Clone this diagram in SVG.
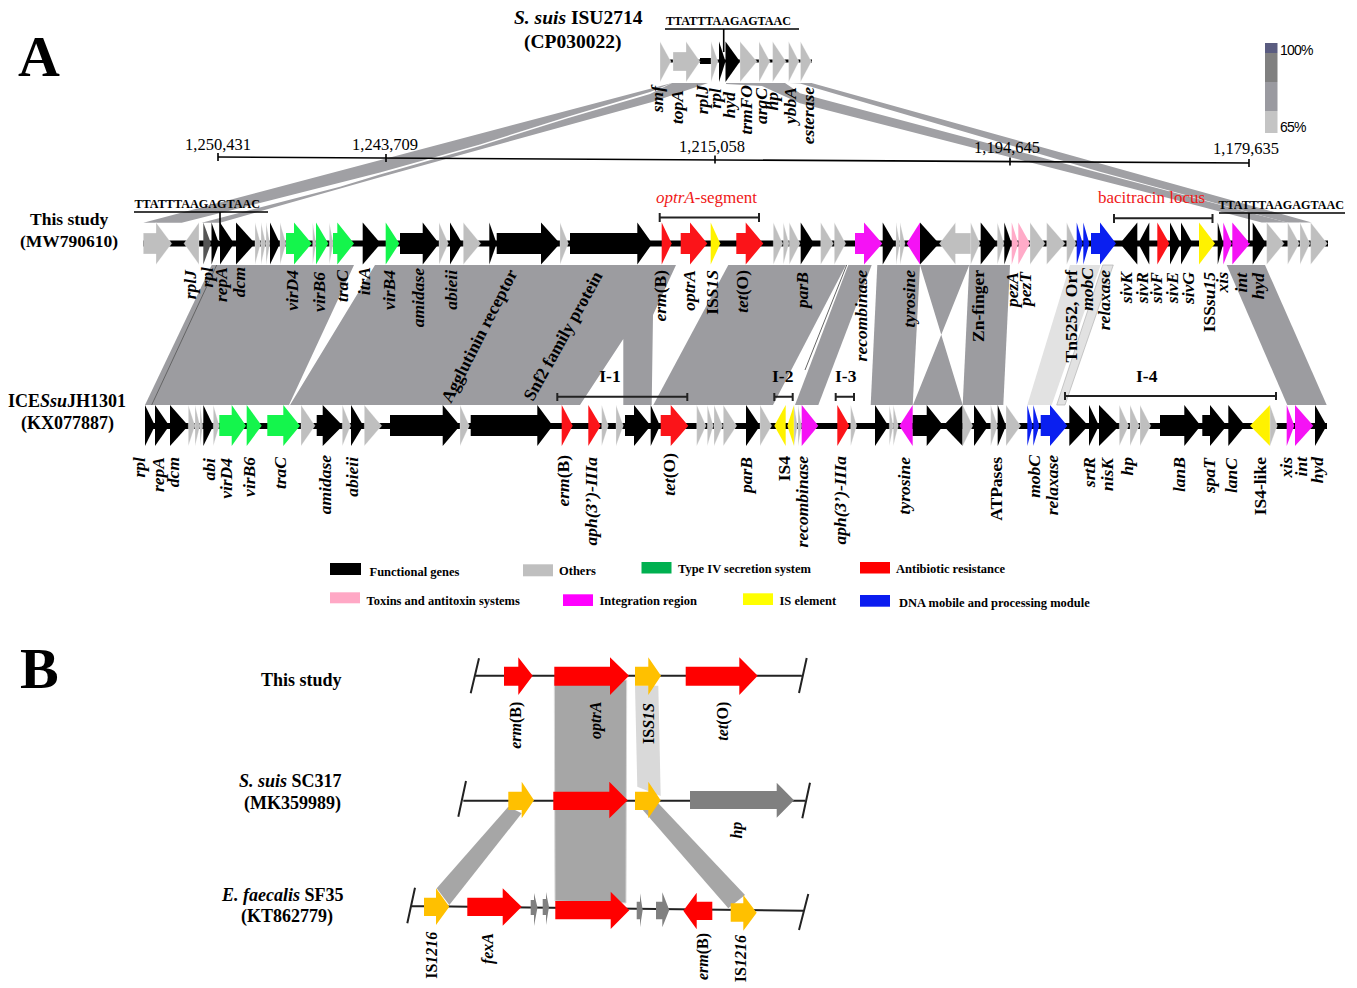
<svg xmlns="http://www.w3.org/2000/svg" width="1357" height="988" viewBox="0 0 1357 988">
<style>
text{font-family:"Liberation Serif","Times New Roman",serif;fill:#000}
.b{font-weight:700;font-size:18px}
.b2{font-weight:700;font-size:17.5px}
.t{font-weight:700;font-size:19.5px}
.i{font-style:italic}
.n{font-style:normal}
.l{font-weight:700;font-style:italic;font-size:17.5px;text-anchor:end}
.lb{font-weight:700;font-size:17.5px;text-anchor:end}
.lp{font-weight:700;font-style:italic;font-size:16px;text-anchor:end}
.sc{font-size:16.5px;text-anchor:middle}
.seq{font-weight:700;font-size:13.5px}
.red{fill:#f01818;font-size:17px}
.leg{font-weight:700;font-size:12.5px}
.big{font-weight:700;font-size:58px}
.ctr{font-weight:700;font-size:17.5px;text-anchor:middle}
.pct{font-family:"Liberation Sans",Arial,sans-serif;font-size:14px;letter-spacing:-.8px}
.k{fill:#000}.g{fill:#bfbfbf;stroke:#fff;stroke-width:.3}.dg{fill:#555}.v{fill:#14f54c}.r{fill:#fb1419}.r2{fill:#f00}.m{fill:#f512f5}.y{fill:#fff200}.u{fill:#0a1ff0}.p{fill:#ffabc8}
.s{fill:#808080}.o{fill:#ffc000}
.rb{fill:#9c9ca0}.rbd{fill:#a0a0a4}.rl{fill:#e2e2e2}.rb2{fill:#a6a6a6}
.ln{stroke:#000;fill:none;stroke-width:1.6}
.ln2{stroke:#222;fill:none;stroke-width:2}
</style>

<g id="ribbons">
<polygon class="rbd" points="143.300,222.700 672,83 650,92 566.700,117 480,144.500 380,172.500 181.700,222.700"/>
<polygon class="rbd" points="201.700,222.700 340,186.700 380,174.500 480,146 566.700,118.500 650,94 672,83 708,83 653,101.700 380,177.300 220,222.700"/>
<polygon class="rbd" points="789,83 811.500,83 1311.700,222.500 1287,222.500 1100,171.700 800,83.500"/>
<polygon class="rbd" points="726,83 785,83 800,93.300 1100,173 1287,222.500 1261.700,222.500 1130,188 800,103.300 762,86 726,84"/>
<polygon class="rb" points="211.700,265 354,265 289,405 145,405"/>
<line x1="216.700" y1="265" x2="151.700" y2="405" stroke="#555" stroke-width=".8"/>
<polygon class="rb" points="375,265 676,265 653,315 651.700,405 623.300,405 623.300,339 580,405 290,405"/>
<polygon class="rb" points="728.300,265 846,265 773,405 653.300,405"/>
<polygon class="rb" points="848.300,265 871.700,265 818.300,405 795,405"/>
<line x1="846.700" y1="265" x2="805" y2="370" stroke="#666" stroke-width="1"/>
<polygon class="rb" points="877.300,265 920,265 912.700,405 870.700,405"/>
<polygon class="rb" points="920,265 969.300,265 913,405 962.700,405"/>
<polygon class="rb" points="969.300,265 1010,265 1003.300,405 962.700,405"/>
<polygon class="rl" points="1070,265 1100.700,265 1051.700,405 1027.300,405"/>
<polygon class="rl" stroke="#aaa" stroke-width=".6" points="1102.700,265 1113.300,265 1065,405 1056.700,405"/>
<polygon class="rb" points="1226.700,265 1265,265 1326.700,405 1287.300,405"/>
<polygon class="rb2" stroke="#d9d9d9" points="554.300,680 626.700,680 626,903 555,901"/>
<polygon fill="#d9d9d9" points="635,685.700 658.300,685.700 660.700,796 637.300,786.700"/>
<polygon class="rb2" points="508.300,806.700 521.700,813.300 449.300,905 436.700,888.300"/>
<polygon class="rb2" points="640,806.700 658.300,803.300 745,895 728.300,908.300"/>
</g>

<g id="scale-bar">
<line class="ln" x1="218" y1="157" x2="1249" y2="163"/>
<path class="ln" d="M218 153v8M386 154v8M715 155.500v8M1010 157.500v8M1249 159v8"/>
<text class="sc" x="218" y="150">1,250,431</text>
<text class="sc" x="385" y="150">1,243,709</text>
<text class="sc" x="712" y="152">1,215,058</text>
<text class="sc" x="1007" y="153">1,194,645</text>
<text class="sc" x="1246" y="154">1,179,635</text>
</g>

<g id="track-isu2714">
<rect x="660" y="59.500" width="152" height="3" class="k"/>
<rect x="700" y="58" width="11" height="6" class="k"/>
<polygon class="g" points="660,41.500 671,61.500 660,82"/>
<polygon class="g" points="673,52 686,52 686,41.500 700,61.500 686,82 686,71 673,71"/>
<polygon class="g" points="711,41.500 718,61.500 711,82"/>
<polygon class="k" points="719,41.500 725.500,61.500 719,82"/>
<polygon class="k" points="725.500,41.500 740,61.500 725.500,82"/>
<polygon class="g" points="740,41.500 757,61.500 740,82"/>
<polygon class="g" points="759,41.500 770,61.500 759,82"/>
<polygon class="g" points="772.600,41.500 786,61.500 772.600,82"/>
<polygon class="g" points="788.600,41.500 799,61.500 788.600,82"/>
<polygon class="g" points="800.500,41.500 811.500,61.500 800.500,82"/>
<text class="seq" x="666" y="25" textLength="125" lengthAdjust="spacingAndGlyphs">TTATTTAAGAGTAAC</text>
<path class="ln" d="M665 29H799M723.700 29V52"/>
</g>

<g id="track-this-study">
<rect x="143" y="240.500" width="1185" height="6" class="k"/>
<polygon class="g" points="143.300,233 156,233 156,222.500 171.700,243.500 156,264.500 156,254 143.300,254"/>
<polygon class="g" points="184,243.500 199,222.500 199,264.500"/>
<polygon class="dg" points="203.300,222.500 211,243.500 203.300,264.500"/>
<polygon class="k" points="211.500,222.500 219,243.500 211.500,264.500"/>
<polygon class="k" points="220,222.500 234,243.500 220,264.500"/>
<polygon class="k" points="236,222.500 255,243.500 236,264.500"/>
<polygon class="g" points="255,222.500 260.700,243.500 255,264.500"/>
<polygon class="g" points="261,222.500 265.700,243.500 261,264.500"/>
<polygon class="g" points="266,222.500 270,243.500 266,264.500"/>
<polygon class="k" points="270,222.500 280,243.500 270,264.500"/>
<polygon class="g" points="280,222.500 286,243.500 280,264.500"/>
<polygon class="v" points="286,233 294,233 294,222.500 311.700,243.500 294,264.500 294,254 286,254"/>
<polygon class="g" points="312.700,222.500 316,243.500 312.700,264.500"/>
<polygon class="v" points="316,222.500 328.300,243.500 316,264.500"/>
<polygon class="g" points="329.300,222.500 333.300,243.500 329.300,264.500"/>
<polygon class="v" points="333,233 337.300,233 337.300,222.500 354,243.500 337.300,264.500 337.300,254 333,254"/>
<polygon class="k" points="362.700,222.500 380.700,243.500 362.700,264.500"/>
<polygon class="v" points="385.700,222.500 399.300,243.500 385.700,264.500"/>
<polygon class="k" points="400,233 422.700,233 422.700,222.500 439,243.500 422.700,264.500 422.700,254 400,254"/>
<polygon class="g" points="439,222.500 448.300,243.500 439,264.500"/>
<polygon class="k" points="450,222.500 462.300,243.500 450,264.500"/>
<polygon class="g" points="463.300,222.500 480.700,243.500 463.300,264.500"/>
<polygon class="k" points="489.300,222.500 496.700,243.500 489.300,264.500"/>
<polygon class="k" points="496.700,233 541,233 541,222.500 560,243.500 541,264.500 541,254 496.700,254"/>
<polygon class="g" points="560,222.500 568.300,243.500 560,264.500"/>
<polygon class="k" points="570,233 637.300,233 637.300,222.500 652.300,243.500 637.300,264.500 637.300,254 570,254"/>
<polygon class="r" points="661.700,222.500 671.700,243.500 661.700,264.500"/>
<polygon class="r" points="680.700,233 690,233 690,222.500 707.300,243.500 690,264.500 690,254 680.700,254"/>
<polygon class="y" points="710.700,222.500 720.300,243.500 710.700,264.500"/>
<polygon class="r" points="736.300,233 745.700,233 745.700,222.500 763.300,243.500 745.700,264.500 745.700,254 736.300,254"/>
<polygon class="g" points="773.300,222.500 782.700,243.500 773.300,264.500"/>
<polygon class="g" points="783.300,222.500 789,243.500 783.300,264.500"/>
<polygon class="g" points="789.300,222.500 800,243.500 789.300,264.500"/>
<polygon class="k" points="800.700,222.500 814,243.500 800.700,264.500"/>
<polygon class="g" points="820.700,222.500 833.300,243.500 820.700,264.500"/>
<polygon class="g" points="834.300,222.500 845.700,243.500 834.300,264.500"/>
<polygon class="m" points="855,233 864,233 864,222.500 882.300,243.500 864,264.500 864,254 855,254"/>
<polygon class="k" points="882.700,222.500 895,243.500 882.700,264.500"/>
<polygon class="g" points="896,222.500 900,243.500 896,264.500"/>
<polygon class="g" points="900,222.500 905,243.500 900,264.500"/>
<polygon class="m" points="906.700,243.500 920,222.500 920,264.500"/>
<polygon class="k" points="920,222.500 939,243.500 920,264.500"/>
<polygon class="g" points="939.500,243.500 955.500,222.500 955.500,233 971.500,233 971.500,254 955.500,254 955.500,264.500"/>
<polygon class="g" points="970.700,222.500 980,243.500 970.700,264.500"/>
<polygon class="k" points="980.700,222.500 997.300,243.500 980.700,264.500"/>
<polygon class="g" points="997.300,222.500 1004,243.500 997.300,264.500"/>
<polygon class="k" points="1004.300,222.500 1011.700,243.500 1004.300,264.500"/>
<polygon class="p" points="1011.700,222.500 1018.300,243.500 1011.700,264.500"/>
<polygon class="p" points="1018.300,222.500 1030,243.500 1018.300,264.500"/>
<polygon class="g" points="1030,222.500 1045,243.500 1030,264.500"/>
<polygon class="g" points="1046.700,222.500 1065,243.500 1046.700,264.500"/>
<polygon class="g" points="1066.700,222.500 1076,243.500 1066.700,264.500"/>
<polygon class="u" points="1076.700,222.500 1082.700,243.500 1076.700,264.500"/>
<polygon class="u" points="1083.300,222.500 1089.300,243.500 1083.300,264.500"/>
<polygon class="u" points="1091,233 1100,233 1100,222.500 1116,243.500 1100,264.500 1100,254 1091,254"/>
<polygon class="k" points="1120,243.500 1137.300,222.500 1137.300,264.500"/>
<polygon class="k" points="1138.300,243.500 1149.300,222.500 1149.300,264.500"/>
<polygon class="r" points="1157.300,222.500 1169.300,243.500 1157.300,264.500"/>
<polygon class="k" points="1170,222.500 1180.700,243.500 1170,264.500"/>
<polygon class="k" points="1181,222.500 1192.700,243.500 1181,264.500"/>
<polygon class="y" points="1199,222.500 1215,243.500 1199,264.500"/>
<polygon class="k" points="1217.700,222.500 1223.300,243.500 1217.700,264.500"/>
<polygon class="m" points="1223.300,222.500 1231.700,243.500 1223.300,264.500"/>
<polygon class="m" points="1232.300,222.500 1250,243.500 1232.300,264.500"/>
<polygon class="k" points="1252.700,222.500 1266,243.500 1252.700,264.500"/>
<polygon class="g" points="1266.700,222.500 1284,243.500 1266.700,264.500"/>
<polygon class="g" points="1287.700,222.500 1299.300,243.500 1287.700,264.500"/>
<polygon class="g" points="1300,222.500 1310,243.500 1300,264.500"/>
<polygon class="g" points="1310.700,222.500 1327.300,243.500 1310.700,264.500"/>
<text class="seq" x="134.500" y="208" textLength="125.500" lengthAdjust="spacingAndGlyphs">TTATTTAAGAGTAAC</text>
<path class="ln" d="M134 212H268M220 212V240"/>
<text class="seq" x="1218.500" y="209" textLength="125.500" lengthAdjust="spacingAndGlyphs">TTATTTAAGAGTAAC</text>
<path class="ln" d="M1219 213H1345M1249 213V243"/>
<text class="red" x="656" y="203"><tspan class="i">optrA</tspan>-segment</text>
<path class="ln2" d="M659.700 213v9M659.700 217.500H759M759 213v9"/>
<text class="red" x="1098" y="203">bacitracin locus</text>
<path class="ln2" d="M1114 214v9M1114 218.300H1212.500M1212.500 214v9"/>
</g>

<g id="track-ice">
<rect x="145" y="423" width="1182" height="6" class="k"/>
<polygon class="k" points="145,405 155,425.700 145,446"/>
<polygon class="k" points="155,405 169.300,425.700 155,446"/>
<polygon class="k" points="170,405 188.300,425.700 170,446"/>
<polygon class="g" points="188.300,405 195,425.700 188.300,446"/>
<polygon class="g" points="195,405 200,425.700 195,446"/>
<polygon class="g" points="200,405 202.700,425.700 200,446"/>
<polygon class="k" points="203.300,405 213.300,425.700 203.300,446"/>
<polygon class="g" points="213.300,405 219.300,425.700 213.300,446"/>
<polygon class="v" points="219.300,415 231.700,415 231.700,405 246,425.700 231.700,446 231.700,436 219.300,436"/>
<polygon class="v" points="246.700,405 261.700,425.700 246.700,446"/>
<polygon class="v" points="267.300,415 283.300,415 283.300,405 300,425.700 283.300,446 283.300,436 267.300,436"/>
<polygon class="g" points="301,405 315,425.700 301,446"/>
<polygon class="k" points="316.700,415 322.700,415 322.700,405 342.700,425.700 322.700,446 322.700,436 316.700,436"/>
<polygon class="g" points="342.300,405 350.700,425.700 342.300,446"/>
<polygon class="k" points="351,405 363.300,425.700 351,446"/>
<polygon class="g" points="364.300,405 381.700,425.700 364.300,446"/>
<polygon class="k" points="390,415 442.700,415 442.700,405 460,425.700 442.700,446 442.700,436 390,436"/>
<polygon class="g" points="460,405 469.300,425.700 460,446"/>
<polygon class="k" points="470.700,415 537.300,415 537.300,405 552.700,425.700 537.300,446 537.300,436 470.700,436"/>
<polygon class="r" points="561.700,405 572.700,425.700 561.700,446"/>
<polygon class="r" points="588.300,405 600.700,425.700 588.300,446"/>
<polygon class="g" points="601.700,405 608.300,425.700 601.700,446"/>
<polygon class="g" points="616,405 623.300,425.700 616,446"/>
<polygon class="k" points="625,415 634,415 634,405 650.700,425.700 634,446 634,436 625,436"/>
<polygon class="k" points="650.700,405 660,425.700 650.700,446"/>
<polygon class="r" points="660.700,415 670.700,415 670.700,405 688.300,425.700 670.700,446 670.700,436 660.700,436"/>
<polygon class="g" points="696.700,405 706,425.700 696.700,446"/>
<polygon class="g" points="707.300,405 713.300,425.700 707.300,446"/>
<polygon class="g" points="714,405 722.700,425.700 714,446"/>
<polygon class="g" points="723.300,405 736.700,425.700 723.300,446"/>
<polygon class="k" points="746,405 760,425.700 746,446"/>
<polygon class="g" points="760,405 771.700,425.700 760,446"/>
<polygon class="y" points="774.300,425.700 785.700,405 785.700,446"/>
<polygon class="y" points="787.300,425.700 794,405 794,446"/>
<polygon class="g" points="794,405 797.500,425.700 794,446"/>
<polygon class="g" points="798,405 801.700,425.700 798,446"/>
<polygon class="m" points="801.700,405 818.300,425.700 801.700,446"/>
<polygon class="r" points="837.300,405 849.300,425.700 837.300,446"/>
<polygon class="g" points="850.700,405 856.700,425.700 850.700,446"/>
<polygon class="k" points="875,405 888.300,425.700 875,446"/>
<polygon class="g" points="889.300,405 893.300,425.700 889.300,446"/>
<polygon class="g" points="893.300,405 898.300,425.700 893.300,446"/>
<polygon class="m" points="899.300,425.700 912.700,405 912.700,446"/>
<polygon class="k" points="912.700,415 926.700,415 926.700,405 943.300,425.700 926.700,446 926.700,436 912.700,436"/>
<polygon class="k" points="943.300,425.700 962.700,405 962.700,446"/>
<polygon class="g" points="962.700,405 972.700,425.700 962.700,446"/>
<polygon class="k" points="974,405 988.300,425.700 974,446"/>
<polygon class="g" points="990.700,405 997.700,425.700 990.700,446"/>
<polygon class="k" points="997.700,405 1006,425.700 997.700,446"/>
<polygon class="g" points="1006,405 1020.700,425.700 1006,446"/>
<polygon class="u" points="1027.300,405 1032.700,425.700 1027.300,446"/>
<polygon class="u" points="1033.300,405 1039.300,425.700 1033.300,446"/>
<polygon class="u" points="1040.700,415 1050,415 1050,405 1067.300,425.700 1050,446 1050,436 1040.700,436"/>
<polygon class="k" points="1069.300,405 1088.300,425.700 1069.300,446"/>
<polygon class="k" points="1089,405 1099,425.700 1089,446"/>
<polygon class="k" points="1099,405 1119.300,425.700 1099,446"/>
<polygon class="g" points="1119.300,405 1128.700,425.700 1119.300,446"/>
<polygon class="g" points="1130,405 1139.300,425.700 1130,446"/>
<polygon class="g" points="1140,405 1150.700,425.700 1140,446"/>
<polygon class="k" points="1160,415 1184.300,415 1184.300,405 1200.700,425.700 1184.300,446 1184.300,436 1160,436"/>
<polygon class="k" points="1202.300,415 1210,415 1210,405 1226.700,425.700 1210,446 1210,436 1202.300,436"/>
<polygon class="k" points="1228.300,405 1245,425.700 1228.300,446"/>
<polygon class="y" points="1250,425.700 1270,405 1270,446"/>
<polygon class="g" points="1270,405 1277.300,425.700 1270,446"/>
<polygon class="m" points="1286.700,405 1294.300,425.700 1286.700,446"/>
<polygon class="m" points="1295,405 1313.300,425.700 1295,446"/>
<polygon class="k" points="1315,405 1326.700,425.700 1315,446"/>
<path class="ln2" d="M557.300 393v8M557.300 396.700H687.300M687.300 393v8M774.300 393v8M774.300 396.700H792.700M792.700 393v8M835.700 393v8M835.700 396.700H854M854 393v8M1065 392v8M1065 396H1276M1276 392v8"/>
<text class="ctr" x="610" y="382">I-1</text>
<text class="ctr" x="782.700" y="382">I-2</text>
<text class="ctr" x="845.700" y="382">I-3</text>
<text class="ctr" x="1146.700" y="382">I-4</text>
</g>

<g id="titles">
<text class="big" x="18" y="76">A</text>
<text class="big" x="20" y="688">B</text>
<text class="t" x="514" y="24"><tspan class="i">S. suis</tspan> ISU2714</text>
<text class="t" x="524" y="48">(CP030022)</text>
<text class="b2" x="30" y="225">This study</text>
<text class="b2" x="20" y="247">(MW790610)</text>
<text class="b" x="8" y="407">ICE<tspan class="i">Ssu</tspan>JH1301</text>
<text class="b" x="21" y="429">(KX077887)</text>
<text class="b" x="261" y="686">This study</text>
<text class="b" x="239" y="787"><tspan class="i">S. suis</tspan> SC317</text>
<text class="b" x="244" y="809">(MK359989)</text>
<text class="b" x="222" y="901"><tspan class="i">E. faecalis</tspan> SF35</text>
<text class="b" x="241" y="922">(KT862779)</text>
</g>

<g id="gene-labels-top">
<text class="l" transform="translate(663,86) rotate(-90)">smf</text>
<text class="l" transform="translate(683,90) rotate(-90)">topA</text>
<text class="l" transform="translate(708,85) rotate(-90)">rplJ</text>
<text class="l" transform="translate(721,88) rotate(-90)">rpl</text>
<text class="l" transform="translate(735,92) rotate(-90)">hyd</text>
<text class="l" transform="translate(752,85) rotate(-90)">trmFO</text>
<text class="l" transform="translate(767,88) rotate(-90)">arqC</text>
<text class="l" transform="translate(778,92) rotate(-90)">hp</text>
<text class="l" transform="translate(796,87) rotate(-90)">ybbA</text>
<text class="l" transform="translate(814,87) rotate(-90)">esterase</text>
</g>

<g id="gene-labels-this-study">
<text class="l" transform="translate(196,270) rotate(-90)">rplJ</text>
<text class="l" transform="translate(213,267) rotate(-90)">rpl</text>
<text class="l" transform="translate(227,267) rotate(-90)">repA</text>
<text class="l" transform="translate(245,267) rotate(-90)">dcm</text>
<text class="l" transform="translate(298,270) rotate(-90)">virD4</text>
<text class="l" transform="translate(325,272) rotate(-90)">virB6</text>
<text class="l" transform="translate(348,270) rotate(-90)">traC</text>
<text class="l" transform="translate(370,267) rotate(-90)">itrA</text>
<text class="l" transform="translate(395,270) rotate(-90)">virB4</text>
<text class="l" transform="translate(424,268) rotate(-90)">amidase</text>
<text class="l" transform="translate(457,270) rotate(-90)">abieii</text>
<text class="b2" transform="translate(451,404) rotate(-63)">Agglutinin receptor</text>
<text class="b2" transform="translate(533,402) rotate(-61)">Snf2 family protein</text>
<text class="l" transform="translate(666,270) rotate(-90)">erm<tspan class="n">(B)</tspan></text>
<text class="l" transform="translate(695,270) rotate(-90)">optrA</text>
<text class="lb" transform="translate(718,270) rotate(-90)">IS<tspan class="i">S1S</tspan></text>
<text class="l" transform="translate(748,270) rotate(-90)">tet<tspan class="n">(O)</tspan></text>
<text class="l" transform="translate(808,272) rotate(-90)">parB</text>
<text class="l" transform="translate(867,270) rotate(-90)">recombinase</text>
<text class="l" transform="translate(915,270) rotate(-90)">tyrosine</text>
<text class="lb" transform="translate(984,270) rotate(-90)">Zn-finger</text>
<text class="l" transform="translate(1018,272) rotate(-90)">pezA</text>
<text class="l" transform="translate(1031,272) rotate(-90)">pezT</text>
<text class="lb" transform="translate(1077,270) rotate(-90)">Tn5252, Orf</text>
<text class="l" transform="translate(1093,268) rotate(-90)">mobC</text>
<text class="l" transform="translate(1110,270) rotate(-90)">relaxase</text>
<text class="l" transform="translate(1132,272) rotate(-90)">sivK</text>
<text class="l" transform="translate(1148,272) rotate(-90)">sivR</text>
<text class="l" transform="translate(1162,272) rotate(-90)">sivF</text>
<text class="l" transform="translate(1178,272) rotate(-90)">sivE</text>
<text class="l" transform="translate(1194,272) rotate(-90)">sivG</text>
<text class="lb" transform="translate(1215,272) rotate(-90)">ISS<tspan class="i">su15</tspan></text>
<text class="l" transform="translate(1228,272) rotate(-90)">xis</text>
<text class="l" transform="translate(1247,273) rotate(-90)">int</text>
<text class="l" transform="translate(1264,273) rotate(-90)">hyd</text>
</g>

<g id="gene-labels-ice">
<text class="l" transform="translate(145,457) rotate(-90)">rpl</text>
<text class="l" transform="translate(164,457) rotate(-90)">repA</text>
<text class="l" transform="translate(179,457) rotate(-90)">dcm</text>
<text class="l" transform="translate(215,458) rotate(-90)">abi</text>
<text class="l" transform="translate(232,458) rotate(-90)">virD4</text>
<text class="l" transform="translate(255,457) rotate(-90)">virB6</text>
<text class="l" transform="translate(286,457) rotate(-90)">traC</text>
<text class="l" transform="translate(331,455) rotate(-90)">amidase</text>
<text class="l" transform="translate(358,457) rotate(-90)">abieii</text>
<text class="l" transform="translate(569,455) rotate(-90)">erm<tspan class="n">(B)</tspan></text>
<text class="l" transform="translate(597,457) rotate(-90)">aph(3’)-IIIa</text>
<text class="l" transform="translate(675,453) rotate(-90)">tet<tspan class="n">(O)</tspan></text>
<text class="l" transform="translate(752,457) rotate(-90)">parB</text>
<text class="lb" transform="translate(790,456) rotate(-90)">IS4</text>
<text class="l" transform="translate(808,456) rotate(-90)">recombinase</text>
<text class="l" transform="translate(846,456) rotate(-90)">aph(3’)-IIIa</text>
<text class="l" transform="translate(910,457) rotate(-90)">tyrosine</text>
<text class="lb" transform="translate(1002,457) rotate(-90)">ATPases</text>
<text class="l" transform="translate(1040,455) rotate(-90)">mobC</text>
<text class="l" transform="translate(1058,455) rotate(-90)">relaxase</text>
<text class="l" transform="translate(1095,457) rotate(-90)">srtR</text>
<text class="l" transform="translate(1113,458) rotate(-90)">nisK</text>
<text class="l" transform="translate(1133,457) rotate(-90)">hp</text>
<text class="l" transform="translate(1185,457) rotate(-90)">lanB</text>
<text class="l" transform="translate(1215,458) rotate(-90)">spaT</text>
<text class="l" transform="translate(1237,458) rotate(-90)">lanC</text>
<text class="lb" transform="translate(1266,457) rotate(-90)">IS4-like</text>
<text class="l" transform="translate(1292,457) rotate(-90)">xis</text>
<text class="l" transform="translate(1307,457) rotate(-90)">int</text>
<text class="l" transform="translate(1323,457) rotate(-90)">hyd</text>
</g>

<g id="identity-scale">
<rect x="1265" y="43" width="12.500" height="10" fill="#5a5c80"/>
<rect x="1265" y="53" width="12.500" height="29" fill="#808080"/>
<rect x="1265" y="82" width="12.500" height="29" fill="#9a9aa0"/>
<rect x="1265" y="111" width="12.500" height="22" fill="#c4c4c4"/>
<text class="pct" x="1280" y="55">100%</text>
<text class="pct" x="1280" y="132">65%</text>
</g>

<g id="legend">
<rect x="330" y="563" width="31" height="12" fill="#000"/>
<text class="leg" x="369.500" y="576">Functional genes</text>
<rect x="523" y="564.300" width="30" height="12" fill="#bfbfbf"/>
<text class="leg" x="559" y="575">Others</text>
<rect x="641.500" y="562" width="30" height="11.500" fill="#00b050"/>
<text class="leg" x="678" y="573">Type IV secretion system</text>
<rect x="860" y="562" width="30" height="11.500" fill="#ff0000"/>
<text class="leg" x="896" y="573">Antibiotic resistance</text>
<rect x="330" y="592.300" width="30" height="11" fill="#ffa8c5"/>
<text class="leg" x="366.500" y="605">Toxins and antitoxin systems</text>
<rect x="563" y="594.300" width="30" height="11.700" fill="#ff00ff"/>
<text class="leg" x="599.500" y="605">Integration region</text>
<rect x="743" y="593.300" width="30" height="11.700" fill="#ffff00"/>
<text class="leg" x="779.500" y="605">IS element</text>
<rect x="860" y="595" width="30" height="11.700" fill="#0a1cf0"/>
<text class="leg" x="899" y="606.700">DNA mobile and processing module</text>
</g>

<g id="panel-b-this-study">
<path class="ln2" d="M474 675.700H801.700M479 658.300L470.700 693.300M806.700 658L799 693"/>
<polygon class="r2" points="504,666.700 518.300,666.700 518.300,657.300 532.700,675.700 518.300,695 518.300,685.700 504,685.700"/>
<polygon class="r2" points="554.300,666.700 610,666.700 610,657.300 629,675.700 610,695 610,685.700 554.300,685.700"/>
<polygon class="o" points="635,666.700 648.300,666.700 648.300,657.300 661,675.700 648.300,695 648.300,685.700 635,685.700"/>
<polygon class="r2" points="685.700,666.700 739.300,666.700 739.300,657.300 757.700,675.700 739.300,695 739.300,685.700 685.700,685.700"/>
</g>

<g id="panel-b-sc317">
<path class="ln2" d="M463.300 800.700H805M466 781L458.300 816.700M810 782.700L802.300 818.300"/>
<polygon class="o" points="508.300,791.700 521.700,791.700 521.700,781.700 534,800.300 521.700,818.300 521.700,810 508.300,810"/>
<polygon class="r2" points="553.300,791.700 609.300,791.700 609.300,781.700 627.700,800.300 609.300,818.300 609.300,810 553.300,810"/>
<polygon class="o" points="635,791.700 648.300,791.700 648.300,781.700 660.700,800.300 648.300,818.300 648.300,810 635,810"/>
<polygon class="s" points="690,791 776.700,791 776.700,782.700 794,800.300 776.700,817.700 776.700,809 690,809"/>
</g>

<g id="panel-b-sf35">
<path class="ln2" d="M411.700 906L803.300 910.700M415 887.700L407.300 923.300M808.300 894L799 930"/>
<polygon class="o" points="424,897.700 436,897.700 436,888.300 449.300,906.700 436,925 436,916 424,916"/>
<polygon class="r2" points="467.300,897.700 502.700,897.700 502.700,888.300 521.700,906.700 502.700,925.700 502.700,916 467.300,916"/>
<polygon class="s" points="530.700,900 534,900 534,893 537.500,907.500 534,926 534,915 530.700,915"/>
<polygon class="s" points="542.700,899 546,899 546,892 549,907 546,925 546,915 542.700,915"/>
<polygon class="r2" points="555.300,901 610.700,901 610.700,891.700 629.300,910.300 610.700,929 610.700,919.300 555.300,919.300"/>
<polygon class="s" points="636.700,901.700 640,901.700 640,893.300 642.700,910 640,927.300 640,919.300 636.700,919.300"/>
<polygon class="s" points="656,901.700 662.300,901.700 662.300,892.300 669.300,910 662.300,927.300 662.300,919.300 656,919.300"/>
<polygon class="r2" points="683.300,910.700 696.700,892.700 696.700,901.700 712.300,901.700 712.300,920 696.700,920 696.700,929.300"/>
<polygon class="o" points="730.700,903.300 743.300,903.300 743.300,895 756.700,912.700 743.300,930.700 743.300,921.700 730.700,921.700"/>
</g>

<g id="panel-b-labels">
<text class="lp" transform="translate(520.700,701.700) rotate(-90)">erm<tspan class="n">(B)</tspan></text>
<text class="lp" transform="translate(601,701.700) rotate(-90)">optrA</text>
<text class="lp" transform="translate(653.700,703) rotate(-90)"><tspan class="n">IS</tspan>S1S</text>
<text class="lp" transform="translate(728,701.700) rotate(-90)">tet<tspan class="n">(O)</tspan></text>
<text class="lp" transform="translate(741.700,821.700) rotate(-90)">hp</text>
<text class="lp" transform="translate(437,931.700) rotate(-90)"><tspan class="n">IS</tspan>1216</text>
<text class="lp" transform="translate(493,933) rotate(-90)">fexA</text>
<text class="lp" transform="translate(708,933) rotate(-90)">erm<tspan class="n">(B)</tspan></text>
<text class="lp" transform="translate(746,935) rotate(-90)"><tspan class="n">IS</tspan>1216</text>
</g>
</svg>
